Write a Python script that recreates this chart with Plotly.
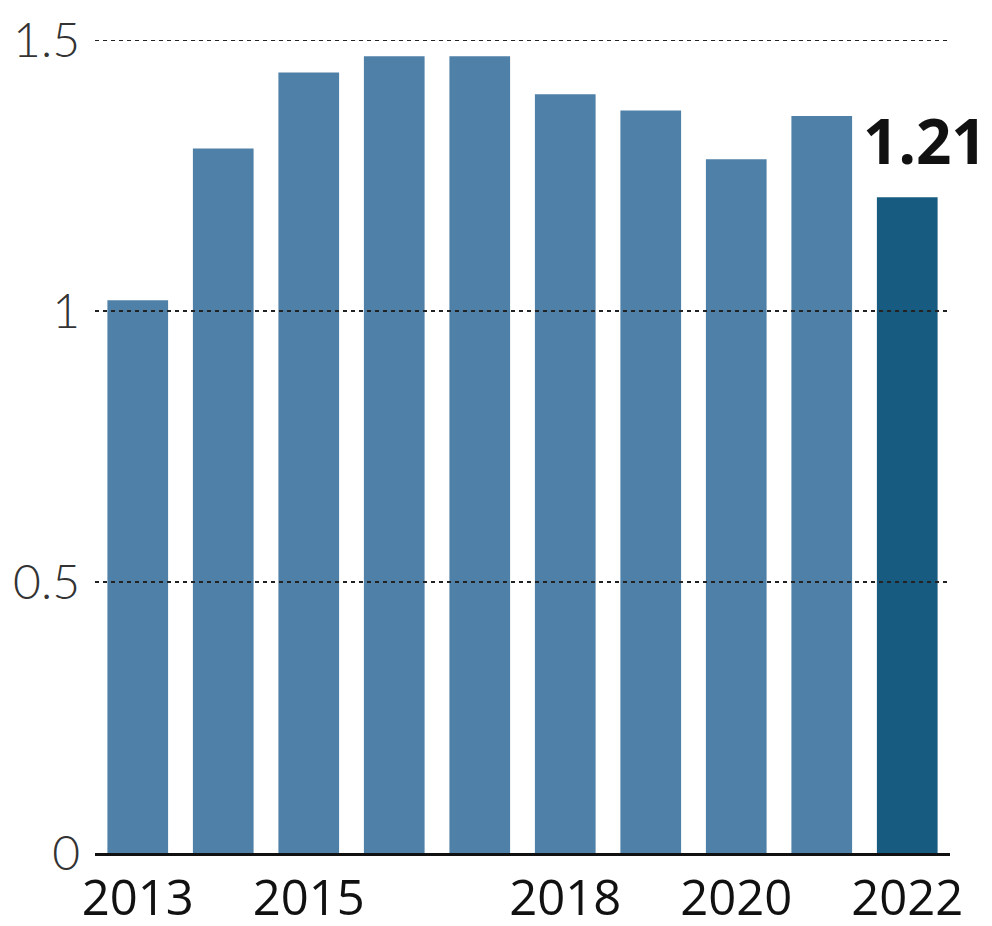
import plotly.graph_objects as go

years = ["2013", "2014", "2015", "2016", "2017", "2018", "2019", "2020", "2021", "2022"]
values = [1.02, 1.30, 1.44, 1.47, 1.47, 1.40, 1.37, 1.28, 1.36, 1.21]
x_tick_labels = ["2013", "2015", "2018", "2020", "2022"]
y_tick_vals = [0, 0.5, 1, 1.5]
y_tick_text = ["0", "0.5", "1", "1.5"]
grid_vals = [0.5, 1, 1.5]
highlight_year = "2022"
highlight_label = "1.21"

base_color = "#4f80a7"
hi_color = "#175b80"
colors = [hi_color if y == highlight_year else base_color for y in years]

fig = go.Figure()
fig.add_trace(go.Bar(x=years, y=values, marker=dict(color=colors, line=dict(width=0)),
                     hoverinfo="x+y"))

shapes = []
for g in grid_vals:
    shapes.append(dict(type="line", xref="paper", yref="y", x0=0, x1=1, y0=g, y1=g,
                       line=dict(color="#222222", width=1.8, dash="4px,4px"), layer="above"))

fig.update_layout(
    width=984, height=918,
    margin=dict(l=87, r=42, t=32, b=73, autoexpand=False),
    plot_bgcolor="white", paper_bgcolor="white",
    bargap=0.29,
    showlegend=False,
    shapes=shapes,
    xaxis=dict(
        type="category", range=[-0.5, 9.5], automargin=False,
        tickmode="array", tickvals=x_tick_labels, ticktext=x_tick_labels,
        showgrid=False, showline=True, linecolor="#111111", linewidth=3,
        ticks="", tickfont=dict(family="Open Sans", size=49, color="#111111"),
        ticklabelstandoff=0,
    ),
    yaxis=dict(
        range=[0, 1.5], automargin=False, tickmode="array", tickvals=y_tick_vals, ticktext=y_tick_text,
        showgrid=False, zeroline=False, showline=False, ticks="",
        tickfont=dict(family="Lato", size=48, color="#333333", weight=300),
        ticklabelstandoff=14,
    ),
)

hi_idx = years.index(highlight_year)
fig.add_annotation(x=hi_idx, y=values[hi_idx], text="<b>" + highlight_label + "</b>",
                   showarrow=False, xanchor="center", yanchor="bottom", xshift=18, yshift=13,
                   font=dict(family="Noto Sans", size=62, color="#111111"))

fig.write_html("out.html")
